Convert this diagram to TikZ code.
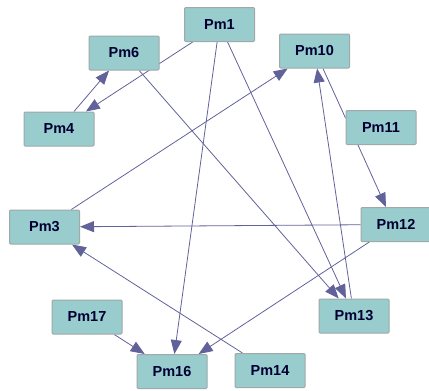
\documentclass[tikz,border=0pt]{standalone}
\usepackage{fontspec}
\setmainfont{Liberation Sans}
\usepackage{xcolor}
\usepackage{tikz}
\usetikzlibrary{arrows.meta, backgrounds}

\definecolor{pmfill}{HTML}{99CCCC}
\definecolor{pmline}{HTML}{A0A8A8}
\definecolor{pmtext}{HTML}{000033}
\definecolor{pmedge}{HTML}{62629A}

\begin{document}
\begin{tikzpicture}[x=1pt, y=-1pt,
	pm/.style={draw=pmline, line width=1, fill=pmfill, rounded corners=1,
		minimum width=70, minimum height=34, inner sep=0,
		text=pmtext, font=\fontsize{14.5}{16}\selectfont\bfseries},
	link/.style={draw=pmedge, line width=0.8},
	arr/.style={link, -{Triangle[length=14, width=11]}}]

\useasboundingbox (0,0) rectangle (429,391);

\node[pm] (Pm1) at (219.5,24.5) {Pm1};
\node[pm] (Pm4) at (59,129) {Pm4};
\node[pm] (Pm6) at (124,53) {Pm6};
\node[pm] (Pm10) at (314.5,51) {Pm10};
\node[pm] (Pm11) at (381,127.5) {Pm11};
\node[pm] (Pm3) at (44.5,227) {Pm3};
\node[pm] (Pm12) at (396,224.5) {Pm12};
\node[pm] (Pm13) at (354,316) {Pm13};
\node[pm] (Pm17) at (87,317) {Pm17};
\node[pm] (Pm16) at (172,371.5) {Pm16};
\node[pm] (Pm14) at (270,370.5) {Pm14};

% edges behind the boxes
\begin{scope}[on background layer]
\draw[arr] (Pm1) -- (Pm4);
\draw[arr] (Pm4) -- (Pm6);
\draw[arr] (Pm6) -- (Pm13);
\draw[arr] (Pm1) -- (Pm13);
\draw[arr] (Pm1) -- (Pm16);
\draw[arr] (Pm13) -- (Pm10);
\draw[link] ([xshift=8.5]Pm10.south) -- ([yshift=9.5]Pm11.west);
\draw[arr] ([xshift=-23]Pm11.south) -- ([xshift=-10]Pm12.north);
\draw[arr] (Pm12) -- (Pm3);
\draw[arr] (Pm3) -- (Pm10);
\draw[arr] (Pm14) -- (Pm3);
\draw[arr] (Pm17) -- (Pm16);
\draw[arr] (Pm12) -- (Pm16);
\end{scope}

\end{tikzpicture}
\end{document}
